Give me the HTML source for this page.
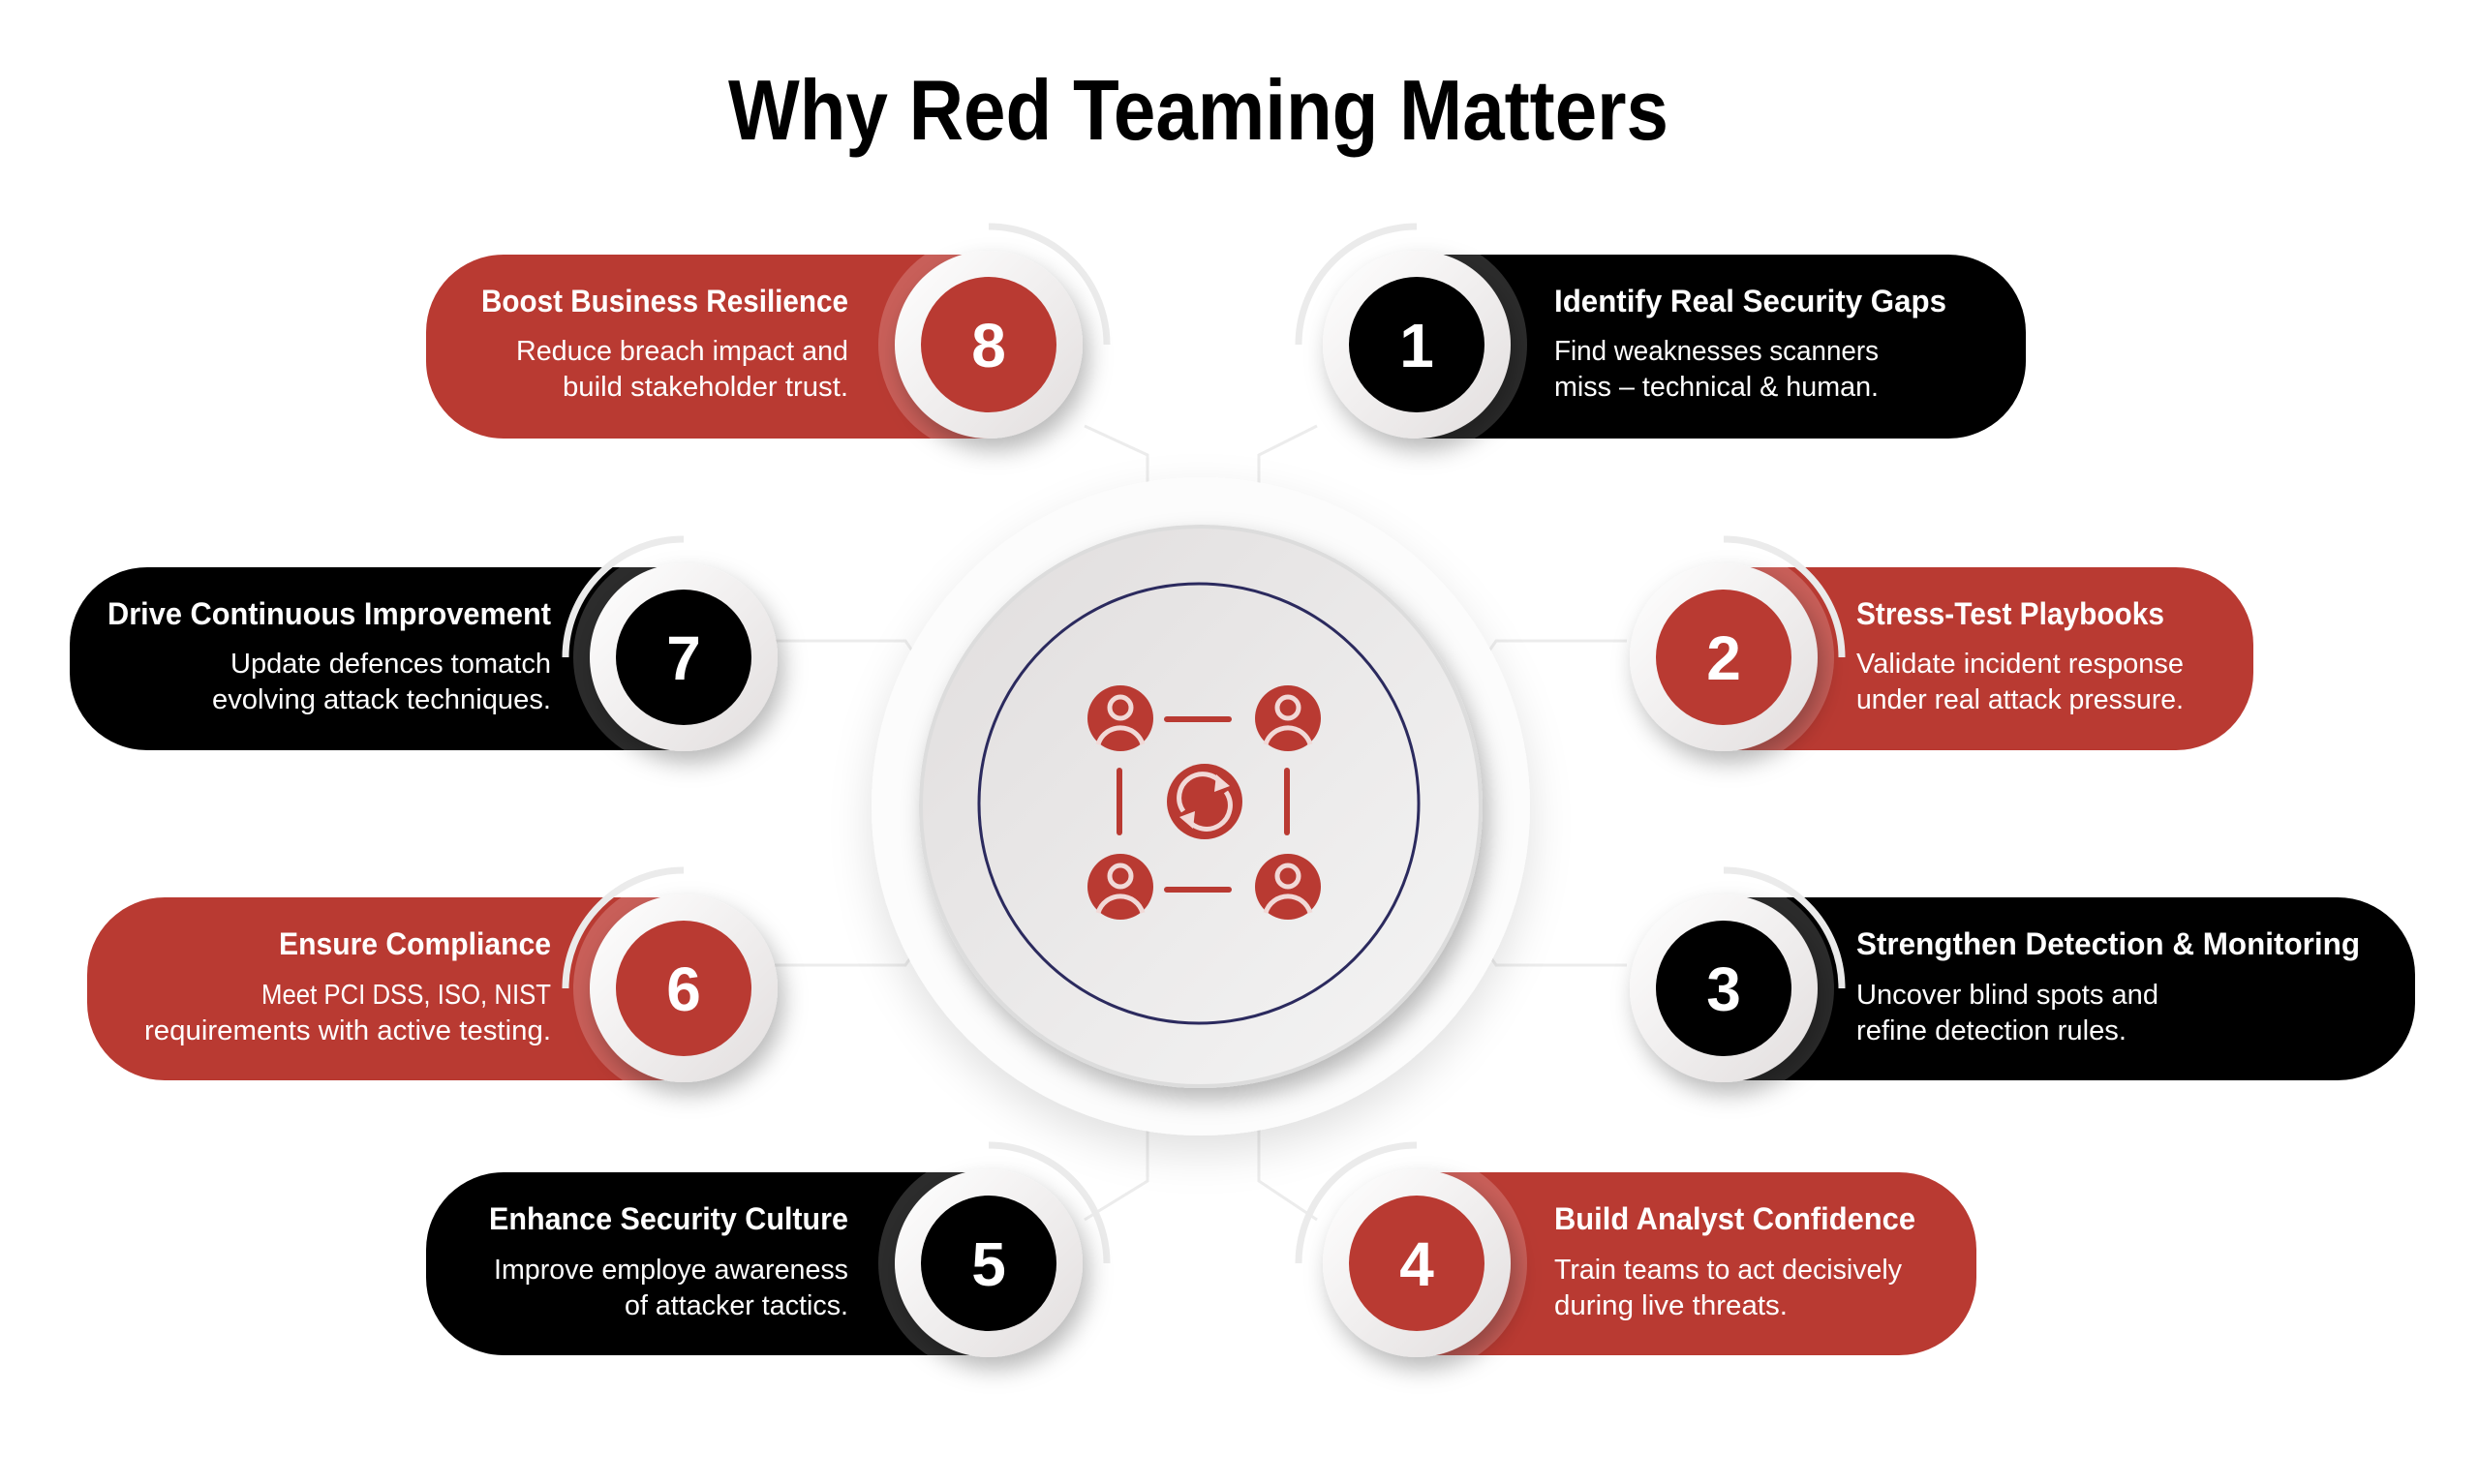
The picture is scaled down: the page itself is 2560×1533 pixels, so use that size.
<!DOCTYPE html>
<html><head><meta charset="utf-8"><style>
html,body{margin:0;padding:0;background:#fff;}
svg{display:block}
.t{font-family:"Liberation Sans",sans-serif;font-weight:bold;font-size:32px;fill:#fff}
.d{font-family:"Liberation Sans",sans-serif;font-size:29px;fill:#fff}
.n{font-family:"Liberation Sans","DejaVu Sans",sans-serif;font-weight:bold;font-size:64px;fill:#fff}
</style></head><body>
<svg width="2560" height="1533" viewBox="0 0 2560 1533" xmlns="http://www.w3.org/2000/svg">
<defs>
<filter id="sh" x="-40%" y="-40%" width="180%" height="180%"><feDropShadow dx="6" dy="12" stdDeviation="12" flood-color="#000" flood-opacity="0.28"/></filter>
<filter id="sh2" x="-30%" y="-30%" width="160%" height="160%"><feDropShadow dx="0" dy="18" stdDeviation="22" flood-color="#000" flood-opacity="0.12"/></filter>
<linearGradient id="wd" x1="0" y1="0" x2="1" y2="1"><stop offset="0" stop-color="#ffffff"/><stop offset="1" stop-color="#e2dede"/></linearGradient>
<linearGradient id="cg" x1="0" y1="0" x2="1" y2="1"><stop offset="0" stop-color="#e0dddd"/><stop offset="1" stop-color="#f5f5f5"/></linearGradient>
</defs>

<text x="752" y="144" textLength="971" lengthAdjust="spacingAndGlyphs" style="font-family:'Liberation Sans',sans-serif;font-weight:bold;font-size:88px;fill:#000">Why Red Teaming Matters</text>

<g stroke="#ececec" stroke-width="3" fill="none">
<path d="M1120 440 L1185 470 L1185 560"/>
<path d="M1360 440 L1300 470 L1300 560"/>
<path d="M800 662 L935 662 L975 720"/>
<path d="M1680 662 L1545 662 L1505 720"/>
<path d="M800 997 L935 997 L975 940"/>
<path d="M1680 997 L1545 997 L1505 940"/>
<path d="M1120 1260 L1185 1220 L1185 1120"/>
<path d="M1360 1260 L1300 1220 L1300 1120"/>
</g>

<circle cx="1240" cy="833" r="340" fill="#fcfcfc" filter="url(#sh2)"/>
<circle cx="1240" cy="833" r="289" fill="url(#cg)" stroke="#dcdcdc" stroke-width="4" filter="url(#sh)"/>
<circle cx="1238" cy="830" r="227" fill="none" stroke="#2b2a5e" stroke-width="3"/>
<g fill="#b93a32">
<rect x="1202" y="740" width="70" height="6" rx="3"/>
<rect x="1202" y="916" width="70" height="6" rx="3"/>
<rect x="1153" y="793" width="6" height="70" rx="3"/>
<rect x="1326" y="793" width="6" height="70" rx="3"/>
<circle cx="1244" cy="828" r="39"/>
</g>
<g fill="#b93a32">
<circle cx="1157" cy="742" r="34"/><circle cx="1330" cy="742" r="34"/>
<circle cx="1157" cy="916" r="34"/><circle cx="1330" cy="916" r="34"/>
</g>
<g fill="none" stroke="#f1d9d7" stroke-width="5">
<circle cx="1157" cy="731" r="11"/><path d="M1134 769 A24 24 0 0 1 1180 769"/>
<circle cx="1330" cy="731" r="11"/><path d="M1307 769 A24 24 0 0 1 1353 769"/>
<circle cx="1157" cy="905" r="11"/><path d="M1134 943 A24 24 0 0 1 1180 943"/>
<circle cx="1330" cy="905" r="11"/><path d="M1307 943 A24 24 0 0 1 1353 943"/>
<path d="M1222 838 A23 23 0 0 1 1262 810"/><path d="M1266 818 A23 23 0 0 1 1226 846"/>
</g>
<g fill="#f1d9d7"><path d="M1256 800 L1270 812 L1254 818 Z"/><path d="M1232 856 L1218 844 L1234 838 Z"/></g>

<path d="M1000 263 L520 263 A80 80 0 0 0 440 343 L440 373 A80 80 0 0 0 520 453 L1000 453 Z" fill="#b93a32"/>
<path d="M690 586 L152 586 A80 80 0 0 0 72 666 L72 695 A80 80 0 0 0 152 775 L690 775 Z" fill="#000"/>
<path d="M690 927 L170 927 A80 80 0 0 0 90 1007 L90 1036 A80 80 0 0 0 170 1116 L690 1116 Z" fill="#b93a32"/>
<path d="M1000 1211 L520 1211 A80 80 0 0 0 440 1291 L440 1320 A80 80 0 0 0 520 1400 L1000 1400 Z" fill="#000"/>
<path d="M1490 263 L2012 263 A80 80 0 0 1 2092 343 L2092 373 A80 80 0 0 1 2012 453 L1490 453 Z" fill="#000"/>
<path d="M1800 586 L2247 586 A80 80 0 0 1 2327 666 L2327 695 A80 80 0 0 1 2247 775 L1800 775 Z" fill="#b93a32"/>
<path d="M1800 927 L2414 927 A80 80 0 0 1 2494 1007 L2494 1036 A80 80 0 0 1 2414 1116 L1800 1116 Z" fill="#000"/>
<path d="M1490 1211 L1961 1211 A80 80 0 0 1 2041 1291 L2041 1320 A80 80 0 0 1 1961 1400 L1490 1400 Z" fill="#b93a32"/>

<defs>
<clipPath id="c8"><rect x="880" y="263" width="141" height="190"/></clipPath>
<clipPath id="c7"><rect x="560" y="586" width="146" height="189"/></clipPath>
<clipPath id="c6"><rect x="560" y="927" width="146" height="189"/></clipPath>
<clipPath id="c5"><rect x="880" y="1211" width="141" height="189"/></clipPath>
<clipPath id="c1"><rect x="1465" y="263" width="140" height="190"/></clipPath>
<clipPath id="c2"><rect x="1780" y="586" width="140" height="189"/></clipPath>
<clipPath id="c3"><rect x="1780" y="927" width="140" height="189"/></clipPath>
<clipPath id="c4"><rect x="1465" y="1211" width="140" height="189"/></clipPath>
</defs>
<circle cx="1021" cy="356" r="114" fill="#c95f59" clip-path="url(#c8)"/>
<circle cx="706" cy="679" r="114" fill="#2c2c2c" clip-path="url(#c7)"/>
<circle cx="706" cy="1021" r="114" fill="#c95f59" clip-path="url(#c6)"/>
<circle cx="1021" cy="1305" r="114" fill="#2c2c2c" clip-path="url(#c5)"/>
<circle cx="1463" cy="356" r="114" fill="#2c2c2c" clip-path="url(#c1)"/>
<circle cx="1780" cy="679" r="114" fill="#c95f59" clip-path="url(#c2)"/>
<circle cx="1780" cy="1021" r="114" fill="#2c2c2c" clip-path="url(#c3)"/>
<circle cx="1463" cy="1305" r="114" fill="#c95f59" clip-path="url(#c4)"/>

<g fill="none" stroke="#ebebeb" stroke-width="7">
<path d="M1021 234 A122 122 0 0 1 1143 356"/>
<path d="M706 557 A122 122 0 0 0 584 679"/>
<path d="M706 899 A122 122 0 0 0 584 1021"/>
<path d="M1021 1183 A122 122 0 0 1 1143 1305"/>
<path d="M1463 234 A122 122 0 0 0 1341 356"/>
<path d="M1780 557 A122 122 0 0 1 1902 679"/>
<path d="M1780 899 A122 122 0 0 1 1902 1021"/>
<path d="M1463 1183 A122 122 0 0 0 1341 1305"/>
</g>

<g filter="url(#sh)">
<circle cx="1021" cy="356" r="97" fill="url(#wd)"/>
<circle cx="706" cy="679" r="97" fill="url(#wd)"/>
<circle cx="706" cy="1021" r="97" fill="url(#wd)"/>
<circle cx="1021" cy="1305" r="97" fill="url(#wd)"/>
<circle cx="1463" cy="356" r="97" fill="url(#wd)"/>
<circle cx="1780" cy="679" r="97" fill="url(#wd)"/>
<circle cx="1780" cy="1021" r="97" fill="url(#wd)"/>
<circle cx="1463" cy="1305" r="97" fill="url(#wd)"/>
</g>
<circle cx="1021" cy="356" r="70" fill="#b93a32"/>
<circle cx="706" cy="679" r="70" fill="#000"/>
<circle cx="706" cy="1021" r="70" fill="#b93a32"/>
<circle cx="1021" cy="1305" r="70" fill="#000"/>
<circle cx="1463" cy="356" r="70" fill="#000"/>
<circle cx="1780" cy="679" r="70" fill="#b93a32"/>
<circle cx="1780" cy="1021" r="70" fill="#000"/>
<circle cx="1463" cy="1305" r="70" fill="#b93a32"/>
<g text-anchor="middle">
<text class="n" x="1021" y="379">8</text>
<text class="n" x="706" y="702">7</text>
<text class="n" x="706" y="1044">6</text>
<text class="n" x="1021" y="1328">5</text>
<text class="n" x="1463" y="379">1</text>
<text class="n" x="1780" y="702">2</text>
<text class="n" x="1780" y="1044">3</text>
<text class="n" x="1463" y="1328">4</text>
</g>

<g lengthAdjust="spacingAndGlyphs">
<text class="t" x="497" y="322" textLength="379" lengthAdjust="spacingAndGlyphs">Boost Business Resilience</text>
<text class="d" x="533" y="372" textLength="343" lengthAdjust="spacingAndGlyphs">Reduce breach impact and</text>
<text class="d" x="581" y="409" textLength="295" lengthAdjust="spacingAndGlyphs">build stakeholder trust.</text>
<text class="t" x="111" y="645" textLength="458" lengthAdjust="spacingAndGlyphs">Drive Continuous Improvement</text>
<text class="d" x="238" y="695" textLength="331" lengthAdjust="spacingAndGlyphs">Update defences tomatch</text>
<text class="d" x="219" y="732" textLength="350" lengthAdjust="spacingAndGlyphs">evolving attack techniques.</text>
<text class="t" x="288" y="986" textLength="281" lengthAdjust="spacingAndGlyphs">Ensure Compliance</text>
<text class="d" x="270" y="1037" textLength="299" lengthAdjust="spacingAndGlyphs">Meet PCI DSS, ISO, NIST</text>
<text class="d" x="149" y="1074" textLength="420" lengthAdjust="spacingAndGlyphs">requirements with active testing.</text>
<text class="t" x="505" y="1270" textLength="371" lengthAdjust="spacingAndGlyphs">Enhance Security Culture</text>
<text class="d" x="510" y="1321" textLength="366" lengthAdjust="spacingAndGlyphs">Improve employe awareness</text>
<text class="d" x="645" y="1358" textLength="231" lengthAdjust="spacingAndGlyphs">of attacker tactics.</text>

<text class="t" x="1605" y="322" textLength="405" lengthAdjust="spacingAndGlyphs">Identify Real Security Gaps</text>
<text class="d" x="1605" y="372" textLength="335" lengthAdjust="spacingAndGlyphs">Find weaknesses scanners</text>
<text class="d" x="1605" y="409" textLength="335" lengthAdjust="spacingAndGlyphs">miss – technical &amp; human.</text>
<text class="t" x="1917" y="645" textLength="318" lengthAdjust="spacingAndGlyphs">Stress-Test Playbooks</text>
<text class="d" x="1917" y="695" textLength="338" lengthAdjust="spacingAndGlyphs">Validate incident response</text>
<text class="d" x="1917" y="732" textLength="338" lengthAdjust="spacingAndGlyphs">under real attack pressure.</text>
<text class="t" x="1917" y="986" textLength="520" lengthAdjust="spacingAndGlyphs">Strengthen Detection &amp; Monitoring</text>
<text class="d" x="1917" y="1037" textLength="312" lengthAdjust="spacingAndGlyphs">Uncover blind spots and</text>
<text class="d" x="1917" y="1074" textLength="279" lengthAdjust="spacingAndGlyphs">refine detection rules.</text>
<text class="t" x="1605" y="1270" textLength="373" lengthAdjust="spacingAndGlyphs">Build Analyst Confidence</text>
<text class="d" x="1605" y="1321" textLength="359" lengthAdjust="spacingAndGlyphs">Train teams to act decisively</text>
<text class="d" x="1605" y="1358" textLength="241" lengthAdjust="spacingAndGlyphs">during live threats.</text>
</g>
</svg>
</body></html>
